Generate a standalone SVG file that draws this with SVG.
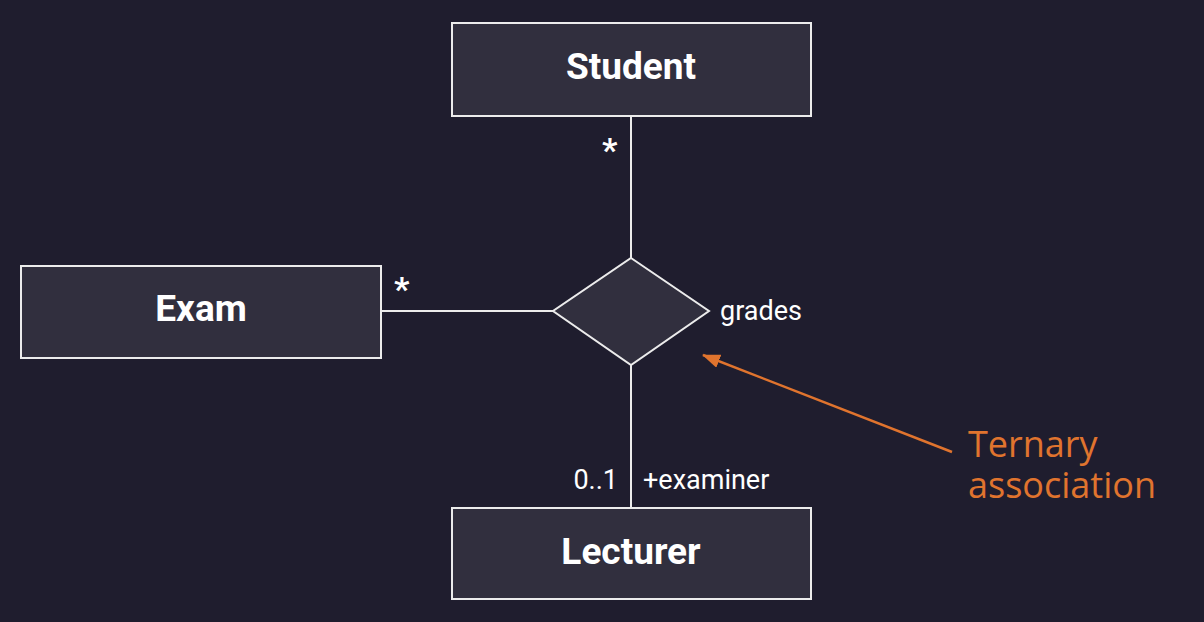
<svg xmlns="http://www.w3.org/2000/svg" width="1204" height="622" viewBox="0 0 1204 622">
<defs>
<style>
.box{fill:#312f3e;stroke:#ececec;stroke-width:2}
.name{font-family:Roboto,"Liberation Sans",Arial,sans-serif;font-weight:bold;font-size:37px;fill:#ffffff;text-anchor:middle}
.lbl{font-family:Roboto,"Liberation Sans",Arial,sans-serif;font-size:27px;fill:#ffffff}
.mult{font-family:Roboto,"Liberation Sans",Arial,sans-serif;font-weight:bold;font-size:34px;fill:#ffffff}
.conn{stroke:#ececec;stroke-width:2;fill:none}
.note{font-family:"Open Sans","Noto Sans",sans-serif;font-size:36px;fill:#e0742e}
</style>
<marker id="ah" markerWidth="18" markerHeight="14" refX="17" refY="7" orient="auto" markerUnits="userSpaceOnUse" viewBox="0 0 18 14">
<path d="M0,0 L18,7 L0,14 z" fill="#e0742e"/>
</marker>
</defs>
<rect width="1204" height="622" fill="#1f1d2e"/>
<g id="connectors">
<line class="conn" x1="631" y1="116" x2="631" y2="258"/>
<line class="conn" x1="381" y1="311" x2="553" y2="311"/>
<line class="conn" x1="631" y1="365" x2="631" y2="508"/>
<line x1="952" y1="452" x2="703" y2="355" stroke="#e0742e" stroke-width="2.5" marker-end="url(#ah)"/>
</g>
<g id="student">
<rect class="box" x="452" y="23" width="359" height="93"/>
<text class="name" x="631" y="79">Student</text>
</g>
<g id="exam">
<rect class="box" x="21" y="266" width="360" height="92"/>
<text class="name" x="201" y="321">Exam</text>
</g>
<g id="lecturer">
<rect class="box" x="452" y="508" width="359" height="91"/>
<text class="name" x="631" y="564">Lecturer</text>
</g>
<g id="grades">
<polygon class="box" points="631,258 709,311 631,365 553,311"/>
<text class="lbl" x="720" y="320">grades</text>
</g>
<g id="labels">
<text class="mult" x="602" y="162">*</text>
<text class="mult" x="394" y="301">*</text>
<text class="lbl" x="618" y="489" text-anchor="end">0..1</text>
<text class="lbl" x="643" y="489">+examiner</text>
</g>
<g id="note">
<text class="note" x="968" y="457">Ternary</text>
<text class="note" x="968" y="498">association</text>
</g>
</svg>
